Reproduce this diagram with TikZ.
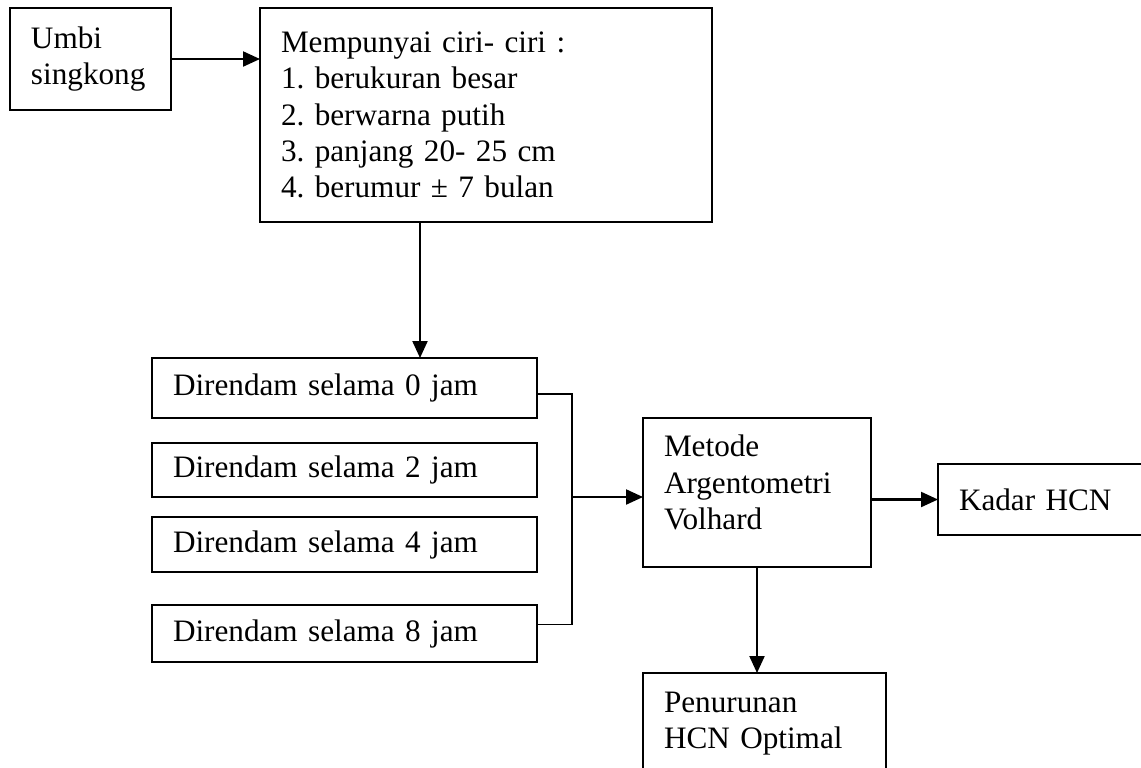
\documentclass[tikz,border=0pt]{standalone}
\usepackage{fontspec}
\setmainfont{Liberation Serif}
\usetikzlibrary{arrows.meta}
\frenchspacing

\begin{document}
\begin{tikzpicture}[x=0.5pt, y=-0.5pt, >={Triangle[length=8.5pt, width=7.5pt]},
    box/.style={draw, line width=1pt, rectangle, anchor=north west, align=left,
        inner xsep=10.5pt, inner ysep=0pt, outer sep=0pt,
        font=\fontsize{15.6}{18.2}\selectfont},
    arr/.style={->, line width=1.1pt},
    link/.style={line width=0.8pt}]

    \useasboundingbox (0,0) rectangle (1141,767);

    % --- Boxes ---
    \node[box, text width=59.5pt, minimum height=51pt] (umbi) at (10,8) {Umbi\\singkong};
    \node[box, text width=205pt, minimum height=107pt] (ciri) at (260,8)
        {Mempunyai ciri- ciri :\\1. berukuran besar\\2. berwarna putih\\3. panjang 20- 25 cm\\4. berumur ± 7 bulan};

    \node[box, text width=171.5pt, minimum height=30pt] (d0) at (152,358) {Direndam selama 0 jam};
    \node[box, text width=171.5pt, minimum height=27pt] (d2) at (152,443) {Direndam selama 2 jam};
    \node[box, text width=171.5pt, minimum height=27.5pt] (d4) at (152,517) {Direndam selama 4 jam};
    \node[box, text width=171.5pt, minimum height=28.5pt] (d8) at (152,605) {Direndam selama 8 jam};

    \node[box, text width=93pt, minimum height=74.5pt] (metode) at (643,418)
        {Metode\\Argentometri\\Volhard\rule[-10pt]{0pt}{10pt}};
    \node[box, text width=120pt, minimum height=35.5pt] (kadar) at (938,464) {Kadar HCN};
    \node[box, text width=100.5pt, minimum height=50.5pt] (turun) at (643,673) {Penurunan\\HCN Optimal};

    % --- Connectors ---
    \coordinate (join) at (572,497);
    \draw[arr] (umbi.east) -- (umbi.east -| ciri.west);
    \draw[arr] ([xshift=80pt]ciri.south west) -- ([xshift=80pt]ciri.south west |- d0.north);

    % bracket joining the soaking times
    \draw[link] ([yshift=-3pt]d0.east) -- ([yshift=-3pt]d0.east -| join)
        -- ([yshift=4.5pt]d8.east -| join) -- ([yshift=4.5pt]d8.east);
    \draw[arr] (join) -- (join -| metode.west);

    \draw[arr] (metode.east |- kadar.west) -- (kadar.west);
    \draw[arr] (metode.south) -- (metode.south |- turun.north);

\end{tikzpicture}
\end{document}
